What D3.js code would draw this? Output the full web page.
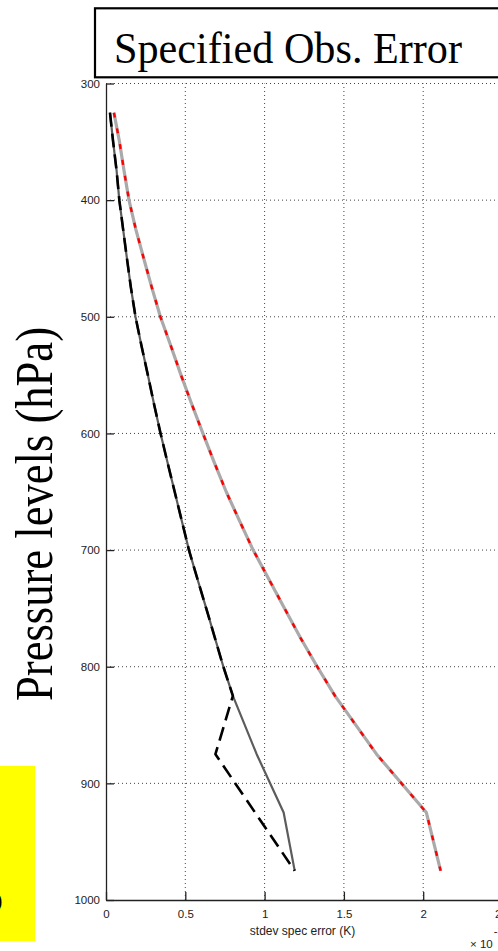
<!DOCTYPE html>
<html>
<head>
<meta charset="utf-8">
<script src="https://cdn.jsdelivr.net/npm/d3@7/dist/d3.min.js"></script>
<style>
  html, body { margin: 0; padding: 0; background: #fff; }
  svg { display: block; }
</style>
</head>
<body>
<svg id="chart" width="498" height="951"></svg>
<script>
// Pressure levels (hPa) at which the specified errors are given
const pressureLevels = [325, 350, 375, 400, 425, 450, 475, 500, 525, 550, 575, 600,
  625, 650, 675, 700, 725, 750, 775, 800, 825, 875, 925, 975];

// Specified error, profile A (dark grey solid)
const errorA = [0.025, 0.045, 0.067, 0.084, 0.108, 0.132, 0.157, 0.186, 0.224, 0.264, 0.303, 0.344,
  0.388, 0.433, 0.478, 0.523, 0.577, 0.632, 0.686, 0.740, 0.800, 0.950, 1.120, 1.190];

// Specified error, profile A alternative (black dashed)
const errorADashed = [0.025, 0.045, 0.067, 0.084, 0.108, 0.132, 0.157, 0.186, 0.224, 0.264, 0.303, 0.344,
  0.388, 0.433, 0.478, 0.523, 0.577, 0.632, 0.686, 0.740, 0.800, 0.690, 0.940, 1.190];

// Specified error, profile B (light grey solid with red dashes)
const errorB = [0.050, 0.085, 0.114, 0.145, 0.188, 0.238, 0.289, 0.343, 0.409, 0.473, 0.541, 0.611,
  0.683, 0.758, 0.842, 0.928, 1.027, 1.126, 1.225, 1.332, 1.444, 1.706, 2.020, 2.110];

const xTicks = [0, 0.5, 1, 1.5, 2, 2.5, 3];
const yTicks = [300, 400, 500, 600, 700, 800, 900, 1000];

const svg = d3.select("#chart");

const plotLeft = 106, plotTop = 83.5, plotBottom = 900;
const x = d3.scaleLinear().domain([0, 3]).range([plotLeft, plotLeft + 3 * 158.6]);
const y = d3.scaleLinear().domain([300, 1000]).range([plotTop, plotBottom]);

const sans = "'Liberation Sans', Arial, Helvetica, sans-serif";
const serif = "'Liberation Serif', 'Times New Roman', Times, serif";

// Dotted grid
const grid = svg.append("g").attr("stroke", "#444").attr("stroke-width", 1)
  .attr("stroke-dasharray", "1,3");
grid.selectAll("line.v").data(xTicks.filter(d => d > 0)).join("line")
  .attr("class", "v")
  .attr("x1", d => x(d)).attr("x2", d => x(d))
  .attr("y1", y(1000)).attr("y2", y(300));
grid.selectAll("line.h").data(yTicks.filter(d => d < 1000)).join("line")
  .attr("class", "h")
  .attr("x1", x(0)).attr("x2", x(3))
  .attr("y1", d => y(d)).attr("y2", d => y(d));

// Axes with inward ticks
const yAxis = d3.axisLeft(y).tickValues(yTicks).tickSizeInner(-8).tickSizeOuter(0)
  .tickPadding(14).tickFormat(d3.format("d"));
const xAxis = d3.axisBottom(x).tickValues(xTicks).tickSizeInner(-8).tickSizeOuter(0)
  .tickPadding(10).tickFormat(d3.format("~g"));

const gy = svg.append("g").attr("transform", `translate(${plotLeft},0)`).call(yAxis);
const gx = svg.append("g").attr("transform", `translate(0,${plotBottom})`).call(xAxis);
[gx, gy].forEach(g => {
  g.select(".domain").attr("stroke", "#222").attr("stroke-width", 1.3);
  g.selectAll(".tick line").attr("stroke", "#222").attr("stroke-width", 1.3);
  g.selectAll(".tick text").attr("fill", "#222").style("font-family", sans)
    .style("font-size", "11.5px");
});
gy.selectAll(".tick text").attr("dx", "8px");

// Profiles
const line = vals => d3.line()
  .x((p, i) => x(vals[i]))
  .y(p => y(p))(pressureLevels);

const plot = svg.append("g").attr("fill", "none").attr("stroke-linejoin", "round");
plot.append("path").attr("d", line(errorB))
  .attr("stroke", "#aaaaaa").attr("stroke-width", 3.2);
plot.append("path").attr("d", line(errorB))
  .attr("stroke", "#ff0000").attr("stroke-width", 2.4).attr("stroke-dasharray", "5,11");
plot.append("path").attr("d", line(errorA))
  .attr("stroke", "#5c5c5c").attr("stroke-width", 2.2);
plot.append("path").attr("d", line(errorADashed))
  .attr("stroke", "#000").attr("stroke-width", 2.6).attr("stroke-dasharray", "14,7");

// Axis labels
svg.append("text").attr("x", 302.5).attr("y", 935)
  .attr("text-anchor", "middle").attr("fill", "#222")
  .style("font-family", sans).style("font-size", "12px")
  .text("stdev spec error (K)");

const mult = svg.append("text").attr("x", 470).attr("y", 948).attr("fill", "#222")
  .style("font-family", sans).style("font-size", "11.5px");
mult.append("tspan").text("× 10");
mult.append("tspan").attr("dy", -13).attr("dx", 1).text("-3");

svg.append("text")
  .attr("transform", "translate(52,514) rotate(-90)")
  .attr("text-anchor", "middle").attr("fill", "#000")
  .attr("textLength", 374).attr("lengthAdjust", "spacingAndGlyphs")
  .style("font-family", serif).style("font-size", "52px")
  .text("Pressure levels (hPa)");

// Title box
svg.append("rect").attr("x", 95).attr("y", 8.3).attr("width", 460).attr("height", 69)
  .attr("fill", "#fff").attr("stroke", "#000").attr("stroke-width", 2.2);
svg.append("text").attr("x", 114).attr("y", 63).attr("fill", "#000")
  .attr("textLength", 348).attr("lengthAdjust", "spacingAndGlyphs")
  .style("font-family", serif).style("font-size", "45px")
  .text("Specified Obs. Error");

// Side panel
svg.append("rect").attr("x", 0).attr("y", 766).attr("width", 35).attr("height", 175)
  .attr("fill", "#ffff00");
svg.append("text").attr("x", 3).attr("y", 912).attr("text-anchor", "end").attr("fill", "#000")
  .style("font-family", serif).style("font-size", "42px").text("o");
</script>
</body>
</html>
